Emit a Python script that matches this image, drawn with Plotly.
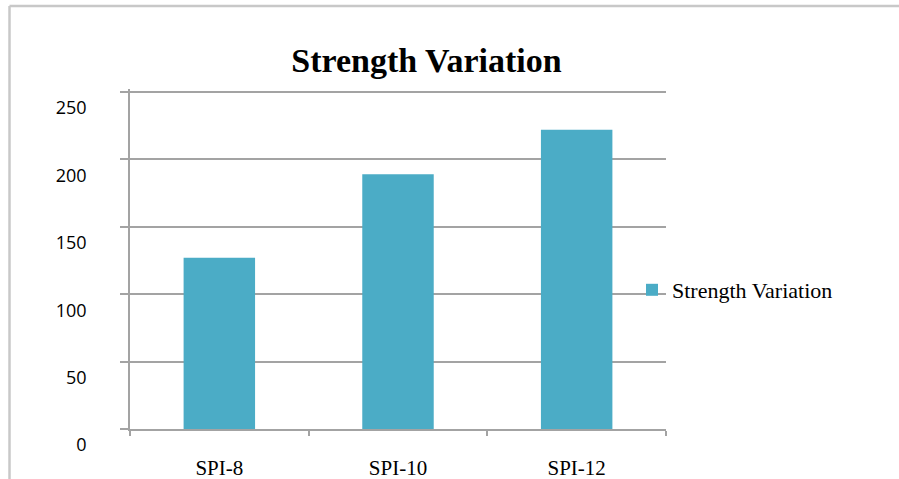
import plotly.graph_objects as go

categories = ["SPI-8", "SPI-10", "SPI-12"]
strength_values = [127, 189, 222]
series_name = "Strength Variation"
y_ticks = [0, 50, 100, 150, 200, 250]

BAR_COLOR = "#4BACC6"
GRID_COLOR = "#a3a3a3"
SERIF = "Liberation Serif, Times New Roman, serif"

Y_MAX = 252.2
PLOT_TOP = 89
PLOT_BOTTOM = 429
PLOT_LEFT = 130
PLOT_RIGHT = 666
plot_w = PLOT_RIGHT - PLOT_LEFT
plot_h = PLOT_BOTTOM - PLOT_TOP

fig = go.Figure()
fig.add_trace(go.Bar(
    x=categories,
    y=strength_values,
    name=series_name,
    marker=dict(color=BAR_COLOR, line=dict(width=0)),
    showlegend=True,
))

border_left = (9.5 - PLOT_LEFT) / plot_w
border_top = (PLOT_BOTTOM - 6) / plot_h

fig.update_layout(
    width=899,
    height=479,
    margin=dict(l=PLOT_LEFT, r=899 - PLOT_RIGHT, t=PLOT_TOP, b=479 - PLOT_BOTTOM,
                autoexpand=False),
    paper_bgcolor="white",
    plot_bgcolor="white",
    bargap=0.6,
    title=dict(
        text=series_name,
        x=426.5 / 899,
        xanchor="center",
        xref="container",
        y=1 - 60 / 479,
        yanchor="middle",
        yref="container",
        font=dict(family=SERIF, size=34, color="black", weight="bold"),
    ),
    showlegend=True,
    legend=dict(
        x=(632 - PLOT_LEFT) / plot_w,
        xanchor="left",
        y=(PLOT_BOTTOM - 290) / plot_h,
        yanchor="middle",
        bgcolor="rgba(0,0,0,0)",
        font=dict(family=SERIF, size=22, color="black"),
    ),
    shapes=[
        dict(type="line", xref="paper", yref="paper",
             x0=border_left, x1=2.0, y0=border_top, y1=border_top,
             line=dict(color="#c8c8c8", width=2.5), layer="below"),
        dict(type="line", xref="paper", yref="paper",
             x0=border_left, x1=border_left, y0=-1.0, y1=border_top,
             line=dict(color="#c8c8c8", width=2.5), layer="below"),
    ],
)

fig.update_xaxes(
    automargin=False,
    showgrid=False,
    showline=True,
    linecolor=GRID_COLOR,
    linewidth=1.5,
    ticks="outside",
    tickson="boundaries",
    ticklen=5,
    tickcolor=GRID_COLOR,
    tickwidth=1.5,
    ticklabelstandoff=19,
    tickfont=dict(family=SERIF, size=21, color="black"),
    zeroline=False,
)

fig.update_yaxes(
    automargin=False,
    range=[0, Y_MAX],
    tickvals=y_ticks,
    ticktext=[str(v) for v in y_ticks],
    showgrid=True,
    gridcolor=GRID_COLOR,
    gridwidth=1.5,
    showline=True,
    linecolor=GRID_COLOR,
    linewidth=1.5,
    ticks="outside",
    ticklen=8,
    tickcolor=GRID_COLOR,
    tickwidth=1.5,
    ticklabelstandoff=30,
    ticklabelshift=16,
    tickfont=dict(family="Open Sans, sans-serif", size=18, color="black"),
    zeroline=False,
)

fig.write_html("out.html", config={"displayModeBar": False},
               post_script="document.body.style.margin='0px';")
